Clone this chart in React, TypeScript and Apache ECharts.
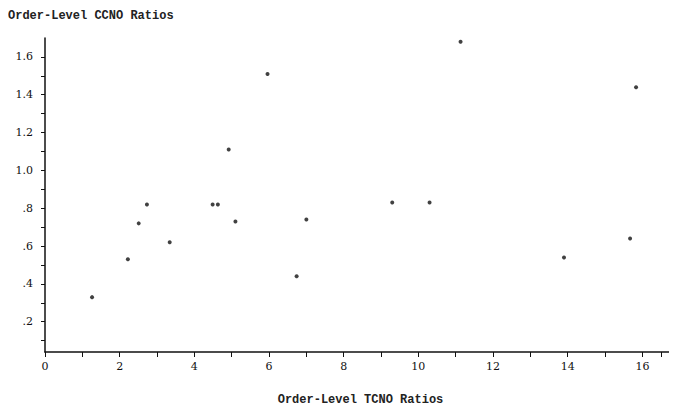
import React, { useEffect, useRef } from "react";
import * as echarts from "echarts";

const titleText = "Order-Level CCNO Ratios";
const xAxisTitle = "Order-Level TCNO Ratios";
const xValues = [1.26, 2.22, 2.51, 2.73, 3.34, 4.49, 4.63, 4.92, 5.1, 5.96, 6.74, 7.0, 9.3, 10.3, 11.13, 13.9, 15.67, 15.83];
const yValues = [0.33, 0.53, 0.72, 0.82, 0.62, 0.82, 0.82, 1.11, 0.73, 1.51, 0.44, 0.74, 0.83, 0.83, 1.68, 0.54, 0.64, 1.44];
const xTickLabels = [0, 2, 4, 6, 8, 10, 12, 14, 16];
const xMinorTicks = [1, 3, 5, 7, 9, 11, 13, 15, 16.5];
const yTickLabels = [0.2, 0.4, 0.6, 0.8, 1.0, 1.2, 1.4, 1.6];
const yMinorTicks = [0.1, 0.3, 0.5, 0.7, 0.9, 1.1, 1.3, 1.5];

const fmtY = (v: number) => (v >= 1 ? v.toFixed(1) : "." + Math.round(v * 10));

export default function App() {
  const ref = useRef<HTMLDivElement>(null);
  useEffect(() => {
    if (!ref.current) return;
    const chart = echarts.init(ref.current, null, { renderer: "svg" });
    const font = "Liberation Mono";
    chart.setOption({
      animation: false,
      backgroundColor: "#ffffff",
      title: {
        text: titleText,
        left: 3,
        top: 5,
        textStyle: { fontFamily: font, fontSize: 12, fontWeight: "bold", color: "#222" },
      },
      grid: { left: 45, right: 1, top: 38, bottom: 58 },
      xAxis: {
        type: "value",
        min: 0,
        max: 16.9,
        name: xAxisTitle,
        nameLocation: "middle",
        nameGap: 42,
        nameTextStyle: { fontFamily: font, fontSize: 12, fontWeight: "bold", color: "#222" },
        axisLine: { show: true, lineStyle: { color: "#111", width: 1.5 } },
        axisTick: { show: true, customValues: [...xTickLabels, ...xMinorTicks], length: 5, inside: false, lineStyle: { color: "#111" } },
        axisLabel: { customValues: xTickLabels, color: "#111", fontFamily: "DejaVu Serif", fontSize: 11, margin: 9 },
        splitLine: { show: false },
      },
      yAxis: {
        type: "value",
        min: 0.04,
        max: 1.7,
        axisLine: { show: true, lineStyle: { color: "#111", width: 1.5 } },
        axisTick: { show: true, customValues: [...yTickLabels, ...yMinorTicks], length: 4, lineStyle: { color: "#111" } },
        axisLabel: { customValues: yTickLabels, formatter: fmtY, color: "#111", fontFamily: "DejaVu Serif", fontSize: 11, margin: 12 },
        splitLine: { show: false },
      },
      series: [
        {
          type: "scatter",
          symbol: "circle",
          symbolSize: 4,
          itemStyle: { color: "#111" },
          data: xValues.map((x, i) => [x, yValues[i]]),
        },
      ],
    });
    return () => chart.dispose();
  }, []);
  return <div ref={ref} style={{ width: 677, height: 411, margin: -8 }} />;
}
